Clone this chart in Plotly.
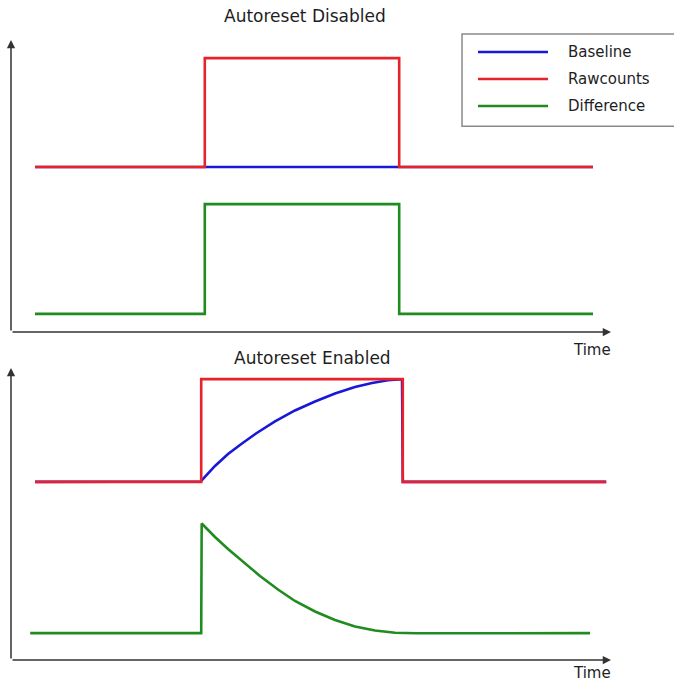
import plotly.graph_objects as go

# ---------------- data (time units 0..100, signal units 0..100) ----------------
series_names = ["Baseline", "Rawcounts", "Difference"]
series_colors = ["#1818d8", "#e8222a", "#1f8c1f"]

# Panel 1: Autoreset Disabled
dis_base_x = [4, 97]
dis_base_y = [56.5, 56.5]
dis_raw_x = [4, 32.3, 32.3, 64.7, 64.7, 97]
dis_raw_y = [56.5, 56.5, 93.8, 93.8, 56.5, 56.5]
dis_diff_x = [4, 32.3, 32.3, 64.7, 64.7, 97]
dis_diff_y = [6.2, 6.2, 43.8, 43.8, 6.2, 6.2]

# Panel 2: Autoreset Enabled
en_base_x = [4, 31.62, 34.0, 36.17, 38.5, 40.83, 44.0, 47.33, 50.67, 54.0, 57.33,
             60.17, 62.83, 65.17, 65.3, 99.2]
en_base_y = [61.0, 61.13, 66.44, 70.55, 74.14, 77.57, 81.68, 85.45, 88.53, 91.27, 93.49,
             94.86, 95.79, 96.13, 61.0, 61.0]
en_raw_x = [4, 31.7, 31.7, 65.3, 65.3, 99.2]
en_raw_y = [61.0, 61.0, 96.2, 96.2, 61.0, 61.0]
en_diff_x = [3.2, 31.7, 31.78, 34.0, 36.17, 39.0, 41.5, 44.5, 47.33, 50.67, 54.0,
             57.33, 60.67, 64.0, 67.62, 96.5]
en_diff_y = [9.2, 9.2, 46.75, 42.12, 38.01, 33.22, 28.77, 24.14, 20.21, 16.61, 13.70,
             11.47, 10.10, 9.32, 9.14, 9.2]

panel_titles = ["Autoreset Disabled", "Autoreset Enabled"]
axis_label = "Time"

# ---------------- figure ----------------
fig = go.Figure()
LW = 2.6

panels = [
    ("x", "y", [(dis_base_x, dis_base_y), (dis_raw_x, dis_raw_y), (dis_diff_x, dis_diff_y)]),
    ("x2", "y2", [(en_base_x, en_base_y), (en_raw_x, en_raw_y), (en_diff_x, en_diff_y)]),
]
for xa, ya, data in panels:
    for (xs, ys), name, col in zip(data, series_names, series_colors):
        fig.add_trace(go.Scatter(x=xs, y=ys, mode="lines", name=name,
                                 line=dict(color=col, width=LW),
                                 xaxis=xa, yaxis=ya, showlegend=False,
                                 hoverinfo="skip"))

ax_common = dict(visible=False, range=[0, 100], fixedrange=True)
fig.update_layout(
    width=674, height=683,
    margin=dict(l=11, r=63, t=40, b=23),
    paper_bgcolor="white", plot_bgcolor="white",
    showlegend=False,
    xaxis=dict(domain=[0, 1], anchor="y", **ax_common),
    yaxis=dict(domain=[0.529, 1], anchor="x", **ax_common),
    xaxis2=dict(domain=[0, 1], anchor="y2", **ax_common),
    yaxis2=dict(domain=[0, 0.471], anchor="x2", **ax_common),
)

font_family = "DejaVu Sans, Liberation Sans, Arial, sans-serif"
txt_col = "#1e1e1e"
annotations = []
shapes = []

# axis arrows
for xr, yr in [("x", "y"), ("x2", "y2")]:
    annotations.append(dict(x=0, y=100, ax=0, ay=0, xref=xr, yref=yr, axref=xr, ayref=yr,
                            showarrow=True, arrowhead=2, arrowsize=1.1, arrowwidth=1.5,
                            arrowcolor="#333333", text=""))
    annotations.append(dict(x=100, y=0, ax=0, ay=0, xref=xr, yref=yr, axref=xr, ayref=yr,
                            showarrow=True, arrowhead=2, arrowsize=1.1, arrowwidth=1.5,
                            arrowcolor="#333333", text=""))

# titles
annotations.append(dict(text=panel_titles[0], x=0.49, y=1.0387, xref="paper", yref="paper",
                        xanchor="center", yanchor="middle", showarrow=False,
                        font=dict(family=font_family, size=17, color=txt_col)))
annotations.append(dict(text=panel_titles[1], x=0.5017, y=0.487, xref="paper", yref="paper",
                        xanchor="center", yanchor="middle", showarrow=False,
                        font=dict(family=font_family, size=17, color=txt_col)))
# Time labels
for yy in [0.5, -0.0205]:
    annotations.append(dict(text=axis_label, x=0.968, y=yy, xref="paper", yref="paper",
                            xanchor="center", yanchor="middle", showarrow=False,
                            font=dict(family=font_family, size=15, color=txt_col)))

# custom legend (box, line samples, labels)
shapes.append(dict(type="rect", xref="paper", yref="paper", x0=0.7517, x1=1.12,
                   y0=0.861, y1=1.0097, line=dict(color="#8a8a8a", width=1.5),
                   fillcolor="white", layer="above"))
leg_y = [0.9806, 0.9371, 0.8935]
for name, col, ly in zip(series_names, series_colors, leg_y):
    shapes.append(dict(type="line", xref="paper", yref="paper", x0=0.7783, x1=0.895,
                       y0=ly, y1=ly, line=dict(color=col, width=LW), layer="above"))
    annotations.append(dict(text=name, x=0.925, y=ly, xref="paper", yref="paper",
                            xanchor="left", yanchor="middle", showarrow=False,
                            font=dict(family=font_family, size=15, color=txt_col)))

fig.update_layout(annotations=annotations, shapes=shapes)
fig.write_html("out.html", config={"displayModeBar": False},
               post_script="document.body.style.margin='0';document.body.style.overflow='hidden';")
